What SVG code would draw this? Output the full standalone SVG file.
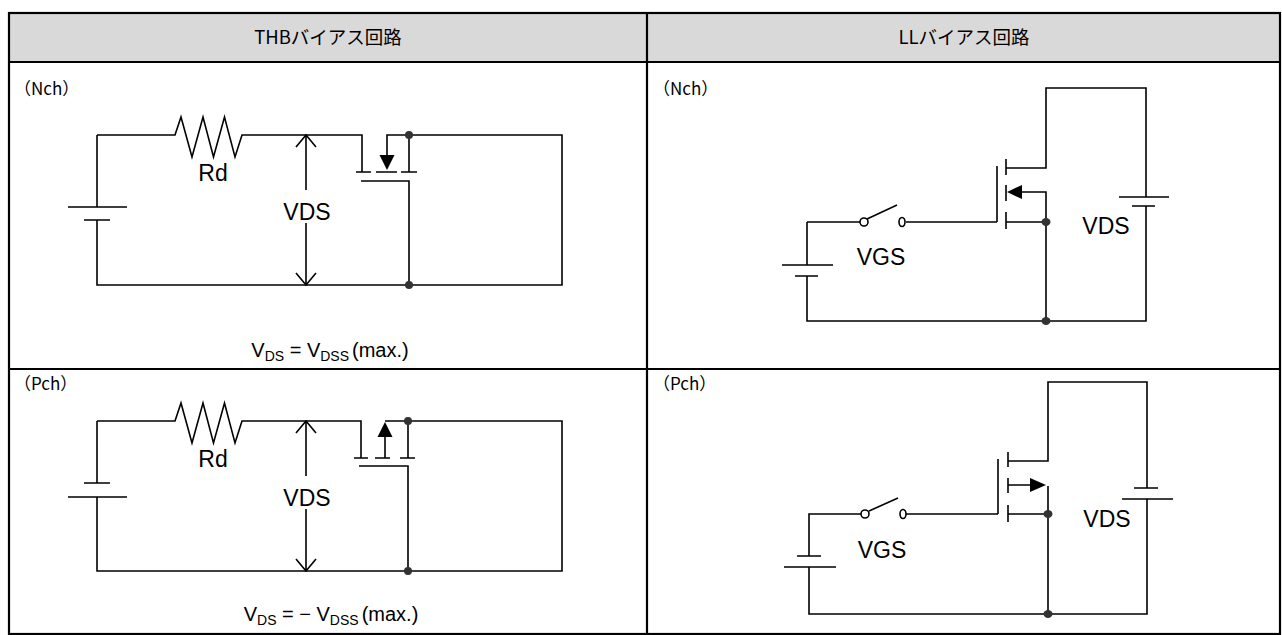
<svg xmlns="http://www.w3.org/2000/svg" width="1282" height="635" viewBox="0 0 1282 635">
<style>
.w{stroke:#000;stroke-width:1.6;fill:none;stroke-linejoin:miter}
.b{stroke:#000;stroke-width:2.2;fill:none}
.dot{fill:#333;stroke:none}
.sw{fill:#fff;stroke:#000;stroke-width:1.6}
.tri{fill:#000;stroke:none}
.hd{font-family:"Noto Sans CJK JP","Liberation Sans",sans-serif;font-size:18.5px;fill:#000}
.lb{font-family:"Noto Sans CJK JP","Liberation Sans",sans-serif;font-size:17px;fill:#000}
.t{font-family:"Liberation Sans","Noto Sans CJK JP",sans-serif;font-size:23px;fill:#000}
.f{font-family:"Liberation Sans","Noto Sans CJK JP",sans-serif;font-size:20px;fill:#000}
</style>
<rect width="1282" height="635" fill="#fff"/>
<g id="table">
<rect x="9" y="13" width="1271" height="49" fill="#d9d9d9"/>
<rect class="b" x="9" y="13" width="1271" height="621"/>
<path class="b" d="M9,62 H1280 M647,13 V634 M9,369 H1280"/>
<text class="hd" x="328" y="44" text-anchor="middle">THBバイアス回路</text>
<text class="hd" x="964" y="44" text-anchor="middle">LLバイアス回路</text>
<text class="lb" x="14" y="95">（Nch）</text>
<text class="lb" x="14" y="390">（Pch）</text>
<text class="lb" x="653" y="95">（Nch）</text>
<text class="lb" x="653" y="390">（Pch）</text>
</g>
<g id="thb-nch">
<path class="w" d="M97,135 V207 M68,207 H127 M84,220 H110 M97,220 V285 H562 V135 H387 V156 M97,135 H175 L181,117 L192,157 L203,117 L213.5,157 L224.5,117 L235,157 L242,135 H362 V172 M356,172 H371 M376,172 H397 M401,172 H417 M409,135 V172 M361,181 H409 V285"/>
<polygon class="tri" points="379.5,155 394.5,155 387,170"/>
<circle class="dot" cx="409" cy="135" r="4"/>
<circle class="dot" cx="409" cy="285" r="4"/>
<path class="w" d="M306,135 V190 M306,223 V285 M296,147 L306,135 L316,147 M296,273 L306,285 L316,273"/>
<text class="t" x="213" y="181" text-anchor="middle">Rd</text>
<text class="t" x="307" y="220" text-anchor="middle">VDS</text>
<text class="f" x="330" y="357" text-anchor="middle">V<tspan font-size="14" dy="4">DS</tspan><tspan dy="-4"> = V</tspan><tspan font-size="14" dy="4">DSS</tspan><tspan dy="-4" dx="3">(max.)</tspan></text>
</g>
<g id="thb-pch">
<path class="w" d="M97,421 V483 M84,483 H110 M68,497 H127 M97,497 V571 H562 V421 H385 M385,458 V436 M97,421 H175 L181,403 L192,443 L203,403 L213.5,443 L224.5,403 L235,443 L242,421 H361 V458 M354,458 H368 M375,458 H390 M400,458 H415 M408,421 V458 M359,466 H408 V571"/>
<polygon class="tri" points="377.5,437 392.5,437 385,422"/>
<circle class="dot" cx="408" cy="421" r="4"/>
<circle class="dot" cx="408" cy="571" r="4"/>
<path class="w" d="M306,421 V476 M306,509 V571 M296,433 L306,421 L316,433 M296,559 L306,571 L316,559"/>
<text class="t" x="213" y="467" text-anchor="middle">Rd</text>
<text class="t" x="307" y="506" text-anchor="middle">VDS</text>
<text class="f" x="331" y="621" text-anchor="middle">V<tspan font-size="14" dy="4">DS</tspan><tspan dy="-4"> = − V</tspan><tspan font-size="14" dy="4">DSS</tspan><tspan dy="-4" dx="3">(max.)</tspan></text>
</g>
<g id="ll-nch">
<path class="w" d="M807,222 H860 M906,222 H997 M997,166 V222 M1006,159 V175 M1006,185 V201 M1006,212 V229 M1006,168 H1046 V88 H1146 V197 M1119,197 H1169 M1132,206 H1155 M1146,206 V321 H807 V276 M795,276 H818 M782,265 H833 M807,265 V222 M1006,222 H1046 M1021,192 H1046 V321 M867,219 L897,205"/>
<polygon class="tri" points="1007,192 1022,185 1022,199"/>
<circle class="sw" cx="864" cy="222" r="4"/>
<ellipse class="sw" cx="902" cy="222" rx="3" ry="4.5"/>
<ellipse class="dot" cx="1046" cy="222" rx="4.5" ry="4"/>
<ellipse class="dot" cx="1046" cy="321" rx="4.5" ry="4"/>
<text class="t" x="881" y="265" text-anchor="middle">VGS</text>
<text class="t" x="1106" y="234" text-anchor="middle">VDS</text>
</g>
<g id="ll-pch">
<path class="w" d="M1008,461 H1048 V382 H1147 V488 M1134,488 H1158 M1122,499 H1173 M1147,499 V614 H809 V567 M784,567 H836 M797,556 H821 M809,556 V514 H861 M906,514 H998 M998,459 V514 M1008,452 V467 M1008,478 V493 M1008,505 V522 M1008,485 H1031 M1048,486 V614 M1008,514 H1048 M869,511 L898,498"/>
<polygon class="tri" points="1030,478 1030,492 1046,485"/>
<circle class="sw" cx="865" cy="514" r="4"/>
<ellipse class="sw" cx="903" cy="514" rx="3" ry="4.5"/>
<ellipse class="dot" cx="1048" cy="514" rx="4.5" ry="4"/>
<ellipse class="dot" cx="1048" cy="614" rx="4.5" ry="4"/>
<text class="t" x="882" y="558" text-anchor="middle">VGS</text>
<text class="t" x="1107" y="527" text-anchor="middle">VDS</text>
</g>
</svg>
